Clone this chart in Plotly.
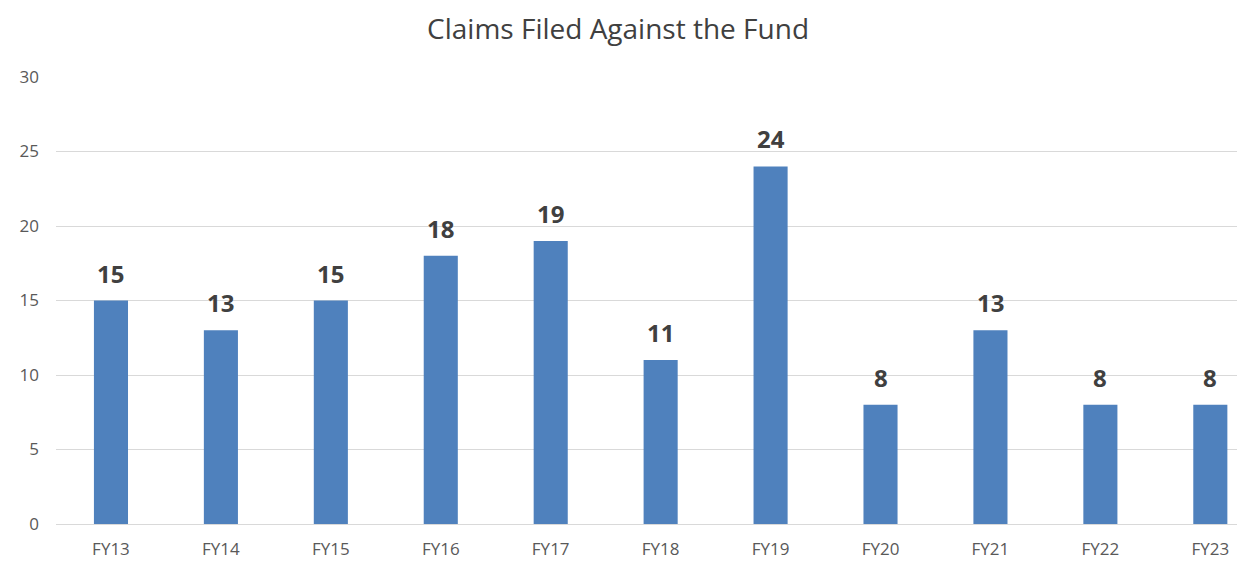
import plotly.graph_objects as go

categories = ["FY13", "FY14", "FY15", "FY16", "FY17", "FY18", "FY19", "FY20", "FY21", "FY22", "FY23"]
claims = [15, 13, 15, 18, 19, 11, 24, 8, 13, 8, 8]
y_ticks = [0, 5, 10, 15, 20, 25, 30]

fig = go.Figure()
fig.add_trace(go.Bar(
    x=categories, y=claims,
    marker=dict(color="#4F81BD", line=dict(width=0)),
    width=0.31,
))

for c, v in zip(categories, claims):
    fig.add_annotation(
        x=c, y=v, text=str(v), showarrow=False,
        yanchor="bottom", yshift=9,
        font=dict(family="Open Sans", size=24, color="#404040", weight="bold"),
    )

fig.update_layout(
    width=1245, height=564,
    margin=dict(l=45, r=13, t=69, b=45),
    paper_bgcolor="white", plot_bgcolor="white",
    title=dict(text="Claims Filed Against the Fund", x=0.49, xanchor="center",
               y=1 - 21 / 564, yanchor="middle",
               font=dict(family="Open Sans", size=28, color="#404040")),
    showlegend=False,
    font=dict(family="Open Sans", color="#595959"),
)
fig.update_xaxes(
    type="category", range=[-0.5, 10.27],
    showline=True, linecolor="#D9D9D9", linewidth=1,
    tickfont=dict(size=17, color="#595959"), ticks="", showgrid=False,
    ticklabelstandoff=10,
)
fig.update_yaxes(
    range=[0, 30], tickvals=y_ticks,
    showgrid=True, gridcolor="#D9D9D9", gridwidth=1,
    tickfont=dict(size=17, color="#595959"), ticks="", zeroline=False,
    ticklabelstandoff=16,
)

fig.write_html("out.html")
